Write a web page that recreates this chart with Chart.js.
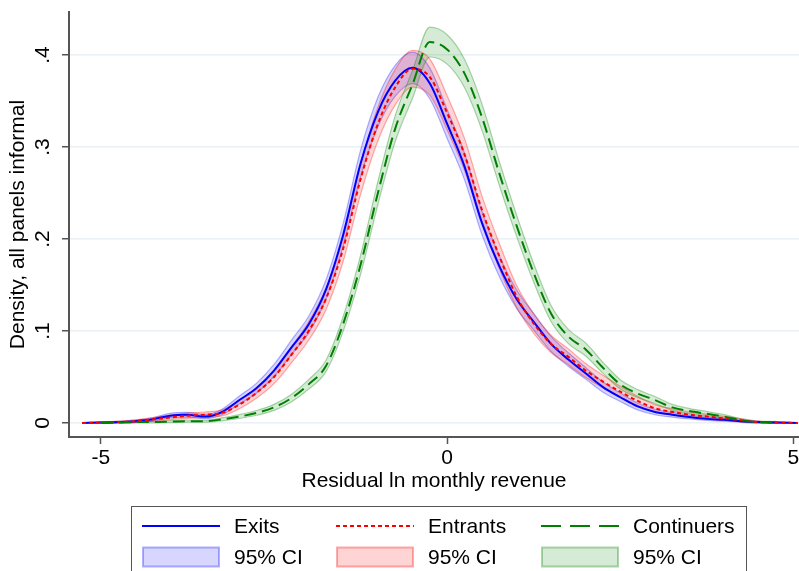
<!DOCTYPE html>
<html>
<head>
<meta charset="utf-8">
<script src="https://cdn.jsdelivr.net/npm/chart.js@4.4.0/dist/chart.umd.min.js"></script>
<style>
  html, body { margin: 0; padding: 0; background: #fff; }
  #wrap { position: relative; width: 799px; height: 571px; overflow: hidden; }
  #chart { position: absolute; left: 0; top: 0; }
  #legend { position: absolute; left: 131px; top: 506px; width: 616px; height: 80px; border: 1.5px solid #555; box-sizing: border-box;
            font: 21px "Liberation Sans", Arial, sans-serif; color: #000; }
  .item { position: absolute; display: flex; align-items: center; height: 24px; white-space: nowrap; }
  .item svg { display: block; margin-right: 14px; }
</style>
</head>
<body>
<div id="wrap">
  <canvas id="chart" width="799" height="571"></canvas>
  <div id="legend"></div>
</div>
<script>
// x positions of the density estimates
const xGrid = [-5.27, -5, -4.75, -4.5, -4.25, -4, -3.75, -3.5, -3.25, -3, -2.75, -2.5, -2.25, -2, -1.75, -1.5, -1.25, -1, -0.75, -0.5, -0.25,
  0, 0.25, 0.5, 0.75, 1, 1.25, 1.5, 1.75, 2, 2.25, 2.5, 2.75, 3, 3.25, 3.5, 3.75, 4, 4.25, 4.5, 4.75, 5.06];

const exits = [0, 0.0005, 0.001, 0.002, 0.004, 0.008, 0.009, 0.007, 0.012, 0.025, 0.038, 0.057, 0.082, 0.107, 0.145, 0.205, 0.282, 0.338, 0.372, 0.386, 0.369,
  0.325, 0.279, 0.218, 0.171, 0.135, 0.110, 0.086, 0.069, 0.054, 0.039, 0.028, 0.018, 0.012, 0.009, 0.0065, 0.0045, 0.0035, 0.002, 0.001, 0.0005, 0];
const entrants = [0, 0.0005, 0.001, 0.002, 0.004, 0.006, 0.008, 0.009, 0.011, 0.020, 0.033, 0.050, 0.074, 0.100, 0.135, 0.190, 0.265, 0.325, 0.365, 0.385, 0.376,
  0.337, 0.292, 0.232, 0.182, 0.138, 0.108, 0.086, 0.072, 0.057, 0.045, 0.034, 0.024, 0.016, 0.012, 0.009, 0.007, 0.005, 0.003, 0.001, 0.0005, 0];
const continuers = [null, 0.0003, 0.0005, 0.001, 0.001, 0.0015, 0.002, 0.002, 0.004, 0.007, 0.011, 0.017, 0.027, 0.042, 0.062, 0.108, 0.172, 0.250, 0.320, 0.368, 0.414,
  0.406, 0.380, 0.333, 0.272, 0.215, 0.163, 0.119, 0.094, 0.080, 0.060, 0.042, 0.032, 0.025, 0.017, 0.013, 0.010, 0.007, 0.003, 0.001, 0.001, null];

// half widths of the 95% confidence bands
const exitsCI = [0, 0.0006, 0.0009, 0.0012, 0.0017, 0.0025, 0.0026, 0.0023, 0.003, 0.0043, 0.0054, 0.0066, 0.0079, 0.009, 0.0105, 0.0125, 0.0146, 0.016, 0.0168, 0.0171, 0.0167,
  0.0157, 0.0145, 0.0128, 0.0113, 0.0101, 0.0091, 0.0081, 0.0073, 0.0063, 0.0055, 0.0046, 0.0037, 0.003, 0.0026, 0.0021, 0.0017, 0.0015, 0.0012, 0.0009, 0.0006, 0];
const entrantsCI = [0, 0.0007, 0.001, 0.0014, 0.002, 0.0025, 0.0029, 0.003, 0.0034, 0.0045, 0.0058, 0.0072, 0.0087, 0.0101, 0.0118, 0.0139, 0.0165, 0.0182, 0.0193, 0.0199, 0.0196,
  0.0186, 0.0173, 0.0154, 0.0137, 0.0119, 0.0105, 0.0094, 0.0086, 0.0076, 0.0068, 0.0059, 0.005, 0.004, 0.0035, 0.003, 0.0027, 0.0023, 0.0018, 0.001, 0.0007, 0];
const continuersCI = [0, 0.0004, 0.0006, 0.0008, 0.0008, 0.001, 0.0011, 0.0011, 0.0016, 0.0021, 0.0026, 0.0033, 0.0041, 0.0052, 0.0062, 0.0081, 0.0104, 0.0125, 0.0141, 0.0151, 0.0162,
  0.016, 0.0154, 0.0144, 0.013, 0.0116, 0.0101, 0.0087, 0.0077, 0.0071, 0.006, 0.0051, 0.0044, 0.0038, 0.0032, 0.0027, 0.0025, 0.0021, 0.0014, 0.0008, 0.0008, 0];

const xTicks = [-5, 0, 5];
const xTickLabels = ['-5', '0', '5'];
const yTicks = [0, 0.1, 0.2, 0.3, 0.4];
const yTickLabels = ['0', '.1', '.2', '.3', '.4'];

const FONT = '"Liberation Sans", Arial, sans-serif';
Chart.defaults.font.family = FONT;
Chart.defaults.color = '#000';

const series = [
  { name: 'Exits', values: exits, ci: exitsCI, color: '#0000ff', dash: [], legendDash: '',
    band: 'rgba(0,0,255,0.16)', edge: 'rgba(0,0,255,0.3)' },
  { name: 'Entrants', values: entrants, ci: entrantsCI, color: '#ff0000', dash: [4, 3], legendDash: '4 3',
    band: 'rgba(255,0,0,0.17)', edge: 'rgba(255,0,0,0.32)' },
  { name: 'Continuers', values: continuers, ci: continuersCI, color: '#008000', dash: [12, 6], legendDash: '20 9',
    band: 'rgba(0,128,0,0.16)', edge: 'rgba(0,128,0,0.32)' }
];

const pts = (arr) => xGrid.map((x, i) => ({ x: x, y: arr[i] }));

const datasets = [];
series.forEach((s, i) => {
  const lo = s.values.map((v, j) => v === null ? null : v - s.ci[j]);
  const hi = s.values.map((v, j) => v === null ? null : v + s.ci[j]);
  datasets.push({ label: s.name + ' lo', data: pts(lo), borderColor: s.edge, borderWidth: 1.2, pointRadius: 0,
    fill: false, cubicInterpolationMode: 'monotone', order: 6 - i });
  datasets.push({ label: '95% CI', data: pts(hi), borderColor: s.edge, borderWidth: 1.2, pointRadius: 0,
    backgroundColor: s.band, fill: '-1', cubicInterpolationMode: 'monotone', order: 6 - i });
});
series.forEach((s, i) => {
  datasets.push({ label: s.name, data: pts(s.values), borderColor: s.color, borderWidth: 2, borderDash: s.dash,
    pointRadius: 0, fill: false, cubicInterpolationMode: 'monotone', order: 3 - i });
});

new Chart(document.getElementById('chart'), {
  type: 'line',
  data: { datasets: datasets },
  options: {
    responsive: false,
    animation: false,
    devicePixelRatio: 1,
    layout: { padding: { top: 12, left: 0, right: 0, bottom: 77 } },
    plugins: { legend: { display: false }, tooltip: { enabled: false } },
    scales: {
      x: {
        type: 'linear', min: -5.46, max: 5.08,
        afterBuildTicks: (s) => { s.ticks = xTicks.map(v => ({ value: v })); },
        afterFit: (s) => { s.height = 57; s.paddingLeft = 0; s.paddingRight = 0; },
        ticks: { font: { size: 21 }, color: '#000', padding: 2, maxRotation: 0,
          callback: (v, i) => xTickLabels[i] },
        grid: { drawOnChartArea: false, drawTicks: true, tickLength: 7, tickColor: '#555', tickWidth: 1.5 },
        border: { display: true, color: '#555', width: 2 },
        title: { display: true, text: 'Residual ln monthly revenue', font: { size: 21 }, color: '#000', padding: 0 }
      },
      y: {
        type: 'linear', min: -0.0152, max: 0.4467,
        afterBuildTicks: (s) => { s.ticks = yTicks.map(v => ({ value: v })); },
        afterFit: (s) => { s.width = 69; s.paddingTop = 0; s.paddingBottom = 0; },
        ticks: { font: { size: 21 }, color: '#000', padding: 10, minRotation: 90, maxRotation: 90, crossAlign: 'center',
          callback: (v, i) => yTickLabels[i] },
        grid: { color: '#eaf0f3', lineWidth: 1.5, drawTicks: true, tickLength: 7, tickColor: '#555', tickWidth: 1.5 },
        border: { display: true, color: '#555', width: 2 },
        title: { display: true, text: 'Density, all panels informal', font: { size: 21 }, color: '#000', padding: { top: 6, bottom: 0 } }
      }
    }
  }
});

// legend: lines on the first row, confidence bands on the second
const legend = document.getElementById('legend');
const colLeft = [10, 204, 409];
series.forEach((s, i) => {
  const lineItem = document.createElement('div');
  lineItem.className = 'item';
  lineItem.style.left = colLeft[i] + 'px';
  lineItem.style.top = '7px';
  lineItem.innerHTML = `<svg width="78" height="22"><line x1="0" y1="11" x2="78" y2="11" stroke="${s.color}" stroke-width="2" stroke-dasharray="${s.legendDash}"/></svg><span>${s.name}</span>`;
  legend.appendChild(lineItem);

  const bandItem = document.createElement('div');
  bandItem.className = 'item';
  bandItem.style.left = colLeft[i] + 'px';
  bandItem.style.top = '38px';
  bandItem.innerHTML = `<svg width="78" height="22"><rect x="1" y="1.5" width="76" height="19" fill="${s.band}" stroke="${s.edge}" stroke-width="2"/></svg><span>95% CI</span>`;
  legend.appendChild(bandItem);
});
</script>
</body>
</html>
